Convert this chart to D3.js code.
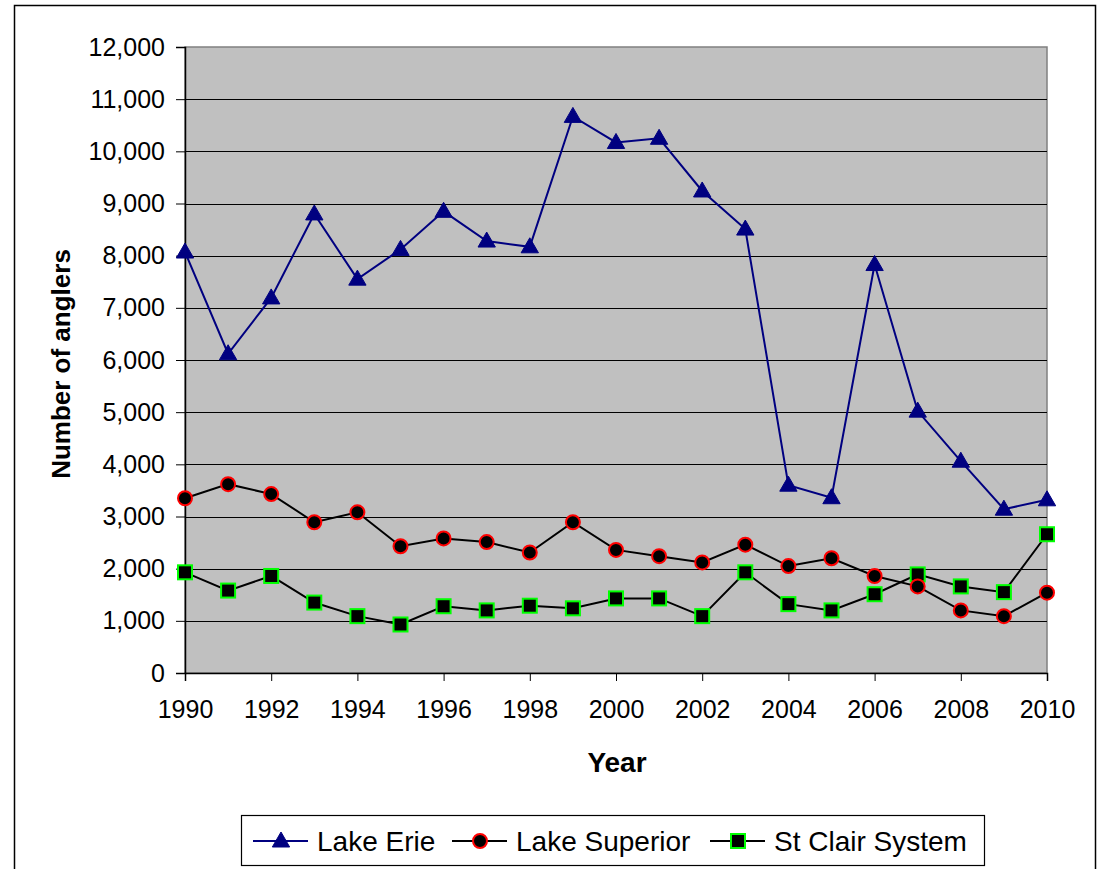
<!DOCTYPE html>
<meta charset="utf-8">
<style>
body { margin: 0; background: #fff; }
text { font-family: "Liberation Sans", Arial, sans-serif; fill: #000; }
.grid line { stroke: #000; stroke-width: 1; }
.axis path, .axis line { stroke: #000; }
</style>
<svg width="1099" height="869"></svg>
<script src="https://cdn.jsdelivr.net/npm/d3@7"></script>
<script>

var years = d3.range(1990, 2011);
var yearTicks = [1990, 1992, 1994, 1996, 1998, 2000, 2002, 2004, 2006, 2008, 2010];
var yTicks = [0, 1000, 2000, 3000, 4000, 5000, 6000, 7000, 8000, 9000, 10000, 11000, 12000];

var lakeErie = [8070, 6120, 7190, 8800, 7550, 8120, 8850, 8280, 8170, 10670, 10170,
                10250, 9240, 8510, 3600, 3360, 7830, 5020, 4060, 3140, 3320];
var lakeSuperior = [3350, 3620, 3430, 2890, 3080, 2430, 2580, 2510, 2310, 2890, 2360,
                    2240, 2120, 2460, 2050, 2200, 1860, 1660, 1200, 1090, 1540];
var stClair = [1930, 1580, 1860, 1350, 1090, 930, 1280, 1200, 1290, 1240, 1430,
               1430, 1090, 1930, 1320, 1200, 1510, 1890, 1660, 1550, 2660];

var svg = d3.select("svg"),
    margin = {top: 47, right: 52, bottom: 196, left: 185},
    width = 1047 - margin.left,
    height = 673 - margin.top;

// outer chart border
svg.append("rect")
    .attr("x", 14.5).attr("y", 5.5)
    .attr("width", 1081).attr("height", 880)
    .attr("fill", "none").attr("stroke", "#000").attr("stroke-width", 1.5);

var x = d3.scaleLinear().domain([1990, 2010]).range([0, width]),
    y = d3.scaleLinear().domain([0, 12000]).range([height, 0]);

var g = svg.append("g")
    .attr("transform", "translate(" + margin.left + "," + margin.top + ")");

g.append("rect")
    .attr("width", width).attr("height", height)
    .attr("fill", "#c0c0c0").attr("stroke", "#808080").attr("stroke-width", 1.5);

g.append("g")
    .attr("class", "grid")
  .selectAll("line")
  .data(yTicks.slice(1, -1))
  .enter().append("line")
    .attr("x1", 0).attr("x2", width)
    .attr("y1", function(d) { return Math.round(y(d)) + 0.5; })
    .attr("y2", function(d) { return Math.round(y(d)) + 0.5; });

var fmt = d3.format(",");

var yAxis = g.append("g")
    .attr("class", "axis")
    .call(d3.axisLeft(y).tickValues(yTicks).tickFormat(fmt).tickSize(9).tickPadding(11));
yAxis.selectAll("text").style("font-size", "25px");
yAxis.select(".domain").attr("stroke-width", 1.5);

var xAxis = g.append("g")
    .attr("class", "axis")
    .attr("transform", "translate(0," + height + ")")
    .call(d3.axisBottom(x).tickValues(yearTicks).tickFormat(d3.format("d")).tickSize(8).tickPadding(19));
xAxis.selectAll("text").style("font-size", "25px");
xAxis.select(".domain").attr("stroke-width", 1.5);

svg.append("text")
    .attr("x", 617).attr("y", 772)
    .attr("text-anchor", "middle")
    .style("font-size", "28px").style("font-weight", "bold")
    .text("Year");

svg.append("text")
    .attr("transform", "translate(70,364) rotate(-90)")
    .attr("text-anchor", "middle")
    .style("font-size", "26px").style("font-weight", "bold")
    .text("Number of anglers");

var line = d3.line()
    .x(function(d, i) { return x(years[i]); })
    .y(function(d) { return y(d); });

var tri = d3.symbol().type(d3.symbolTriangle).size(130);

var series = [
  {name: "Lake Erie", values: lakeErie, stroke: "#000080", marker: "tri"},
  {name: "Lake Superior", values: lakeSuperior, stroke: "#000", marker: "circle"},
  {name: "St Clair System", values: stClair, stroke: "#000", marker: "square"}
];

function drawMarker(sel, type) {
  if (type === "tri") {
    sel.append("path").attr("d", tri).attr("fill", "#000080").attr("stroke", "#000080").attr("stroke-width", 1);
  } else if (type === "circle") {
    sel.append("circle").attr("r", 7).attr("fill", "#000").attr("stroke", "#ff0000").attr("stroke-width", 2);
  } else {
    sel.append("rect").attr("x", -7).attr("y", -7).attr("width", 14).attr("height", 14)
      .attr("fill", "#000").attr("stroke", "#00ff00").attr("stroke-width", 2);
  }
}

series.slice().reverse().forEach(function(s) {
  g.append("path")
      .datum(s.values)
      .attr("fill", "none")
      .attr("stroke", s.stroke)
      .attr("stroke-width", 2)
      .attr("d", line);
});

series.slice().reverse().forEach(function(s) {
  g.selectAll(".m-" + s.marker)
    .data(s.values)
    .enter().append("g")
      .attr("class", "m-" + s.marker)
      .attr("transform", function(d, i) {
        var dy = s.marker === "tri" ? 1 : 0;
        return "translate(" + x(years[i]) + "," + (y(d) + dy) + ")";
      })
      .each(function() { drawMarker(d3.select(this), s.marker); });
});

// legend
var legend = svg.append("g");
legend.append("rect")
    .attr("x", 241.5).attr("y", 815.5).attr("width", 743).attr("height", 50)
    .attr("fill", "#fff").attr("stroke", "#000").attr("stroke-width", 1.2);

var legX = [253, 452, 710];
series.forEach(function(s, i) {
  var lg = legend.append("g").attr("transform", "translate(" + legX[i] + ",841)");
  lg.append("line").attr("x1", 0).attr("x2", 55).attr("stroke", s.stroke).attr("stroke-width", 2);
  var mk = lg.append("g").attr("transform", "translate(28," + (s.marker === "tri" ? 1 : 0) + ")");
  drawMarker(mk, s.marker);
  lg.append("text")
      .attr("x", 64).attr("y", 10)
      .style("font-size", "28px")
      .text(s.name);
});

</script>
